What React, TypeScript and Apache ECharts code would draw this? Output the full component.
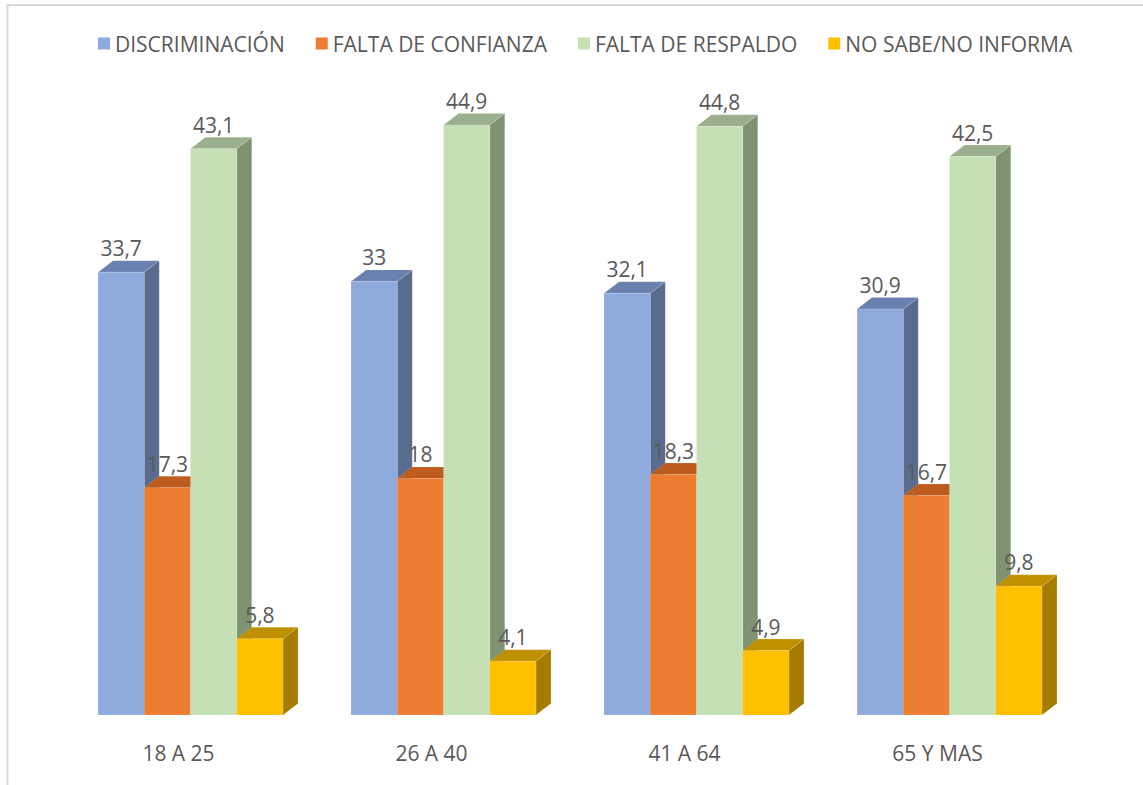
import React, { useEffect, useRef } from "react";
import * as echarts from "echarts";

const categories = ["18 A 25", "26 A 40", "41 A 64", "65 Y MAS"];
const seriesNames = ["DISCRIMINACIÓN", "FALTA DE CONFIANZA", "FALTA DE RESPALDO", "NO SABE/NO INFORMA"];
const discriminacion = [33.7, 33, 32.1, 30.9];
const faltaConfianza = [17.3, 18, 18.3, 16.7];
const faltaRespaldo = [43.1, 44.9, 44.8, 42.5];
const noSabe = [5.8, 4.1, 4.9, 9.8];
const seriesValues = [discriminacion, faltaConfianza, faltaRespaldo, noSabe];

const frontColors = ["#8FAADC", "#ED7D31", "#C5E0B4", "#FFC000"];
const sideColors = ["#5A6C8E", "#A95A22", "#7F9272", "#A67C00"];
const topColors = ["#6A80AE", "#BE5B1E", "#9BAE8D", "#BF9000"];

const TEXT = "#595959";
const FONT = "'Open Sans', 'Noto Sans', sans-serif";
const FS = 21;

export default function App() {
  const ref = useRef<HTMLDivElement>(null);
  useEffect(() => {
    const chart = echarts.init(ref.current!, null, { renderer: "svg" });
    const nSeries = seriesValues.length;
    const series = seriesValues.map((vals, s) => ({
      type: "custom",
      name: seriesNames[s],
      z: 2 + s,
      itemStyle: { color: frontColors[s] },
      data: vals.map((v, i) => [i, v]),
      renderItem: (params: any, api: any) => {
        const ci = api.value(0);
        const v = api.value(1);
        const base = api.coord([ci, 0]);
        const topPt = api.coord([ci, v]);
        const band = api.size([1, 0])[0];
        const groupW = band * 0.731;
        const bw = groupW / nSeries;
        const dx = 15;
        const dy = 11.5;
        const x0 = base[0] - groupW / 2 + s * bw;
        const yb = base[1];
        const yt = topPt[1];
        const edge = "rgba(255,255,255,0.25)";
        return {
          type: "group",
          children: [
            {
              type: "polygon",
              shape: { points: [[x0 + bw, yt], [x0 + bw + dx, yt - dy], [x0 + bw + dx, yb - dy], [x0 + bw, yb]] },
              style: { fill: sideColors[s], stroke: edge, lineWidth: 0.5 },
            },
            {
              type: "polygon",
              shape: { points: [[x0, yt], [x0 + dx, yt - dy], [x0 + bw + dx, yt - dy], [x0 + bw, yt]] },
              style: { fill: topColors[s], stroke: edge, lineWidth: 0.5 },
            },
            {
              type: "rect",
              shape: { x: x0, y: yt, width: bw, height: yb - yt },
              style: { fill: frontColors[s], stroke: edge, lineWidth: 0.5 },
            },
            {
              type: "text",
              x: x0 + bw / 2,
              y: yt - dy - 2,
              style: {
                text: String(v).replace(".", ","),
                fill: TEXT,
                font: `${FS}px ${FONT}`,
                align: "center",
                verticalAlign: "bottom",
              },
            },
          ],
        };
      },
    }));

    chart.setOption({
      animation: false,
      backgroundColor: "#ffffff",
      legend: {
        left: 93,
        top: 28,
        itemWidth: 12,
        itemHeight: 12,
        itemGap: 31,
        icon: "rect",
        textStyle: { color: TEXT, fontSize: FS, fontFamily: FONT },
        data: seriesNames.map((n, i) => ({ name: n, itemStyle: { color: frontColors[i] } })),
      },
      grid: { left: 64, right: 67, top: 58, bottom: 70 },
      xAxis: {
        type: "category",
        data: categories,
        axisLine: { show: false },
        axisTick: { show: false },
        axisLabel: {
          color: TEXT,
          fontSize: FS,
          fontFamily: FONT,
          margin: 27,
          padding: [0, 24, 0, 0],
        },
      },
      yAxis: { type: "value", min: 0, max: 50, show: false },
      graphic: [
        { type: "line", shape: { x1: 7.5, y1: 5, x2: 7.5, y2: 785 }, style: { stroke: "#D9D9D9", lineWidth: 2 } },
        { type: "line", shape: { x1: 7, y1: 5, x2: 1143, y2: 5 }, style: { stroke: "#D9D9D9", lineWidth: 2 } },
      ],
      series,
    });
    return () => chart.dispose();
  }, []);
  return (
    <div
      ref={ref}
      style={{ position: "fixed", left: 0, top: 0, width: 1143, height: 785, background: "#fff" }}
    />
  );
}
